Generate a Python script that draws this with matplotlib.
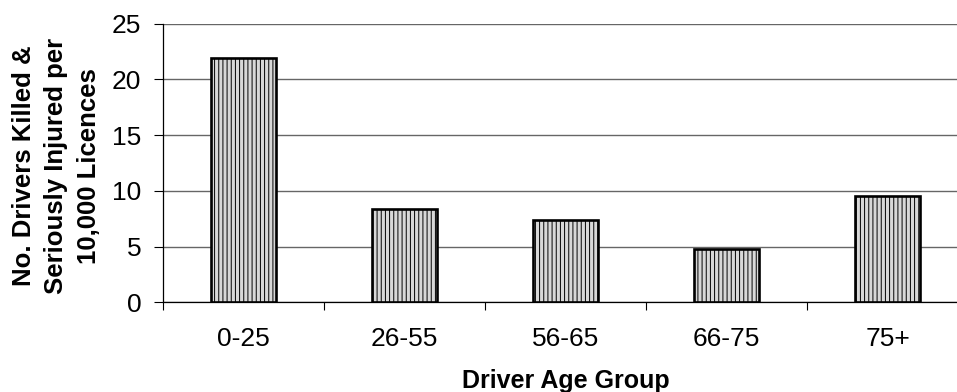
import matplotlib
matplotlib.use("Agg")
import matplotlib.pyplot as plt
import numpy as np

age_groups = ['0-25', '26-55', '56-65', '66-75', '75+']
ksi_rate = [21.9, 8.4, 7.4, 4.8, 9.5]
y_ticks = [0, 5, 10, 15, 20, 25]

plt.rcParams['font.family'] = ['Liberation Sans', 'DejaVu Sans']
plt.rcParams['hatch.color'] = '#b4b4b4'
plt.rcParams['hatch.linewidth'] = 0.7

fig = plt.figure(figsize=(9.57, 3.92), dpi=100)
# axes runs slightly past the right edge of the canvas
ax = fig.add_axes([163 / 957, 1 - 302.3 / 392, 805 / 957, 278.8 / 392])

x = np.arange(len(age_groups))
ax.bar(x, ksi_rate, width=0.40, facecolor='#d8d8d8', edgecolor='black',
       linewidth=1.9, hatch='||||', zorder=3)

ax.set_xlim(-0.5, len(age_groups) - 0.5)
ax.set_ylim(0, 25)
ax.set_yticks(y_ticks)
ax.yaxis.grid(True, color='#666666', linewidth=1.0, zorder=0)
ax.set_axisbelow(True)

# labels centred under bars, tick marks on the category boundaries
ax.set_xticks(x)
ax.set_xticklabels(age_groups)
ax.set_xticks(np.arange(-0.5, len(age_groups)), minor=True)
ax.tick_params(axis='x', which='major', length=0, pad=18, labelsize=19)
ax.tick_params(axis='x', which='minor', length=6, width=0.8, color='black')
ax.tick_params(axis='y', length=6.5, width=0.8, pad=9, labelsize=19)

for side in ['top', 'right']:
    ax.spines[side].set_visible(False)
for side in ['left', 'bottom']:
    ax.spines[side].set_linewidth(0.9)
    ax.spines[side].set_color('black')

ax.set_xlabel('Driver Age Group', fontsize=18, fontweight='bold', labelpad=13)
ax.set_ylabel('No. Drivers Killed &\nSeriously Injured per\n10,000 Licences',
              fontsize=18.5, fontweight='bold', linespacing=1.45)
ax.yaxis.set_label_coords(-62 / 805, 0.49)

fig.savefig('out.png', dpi=100)
